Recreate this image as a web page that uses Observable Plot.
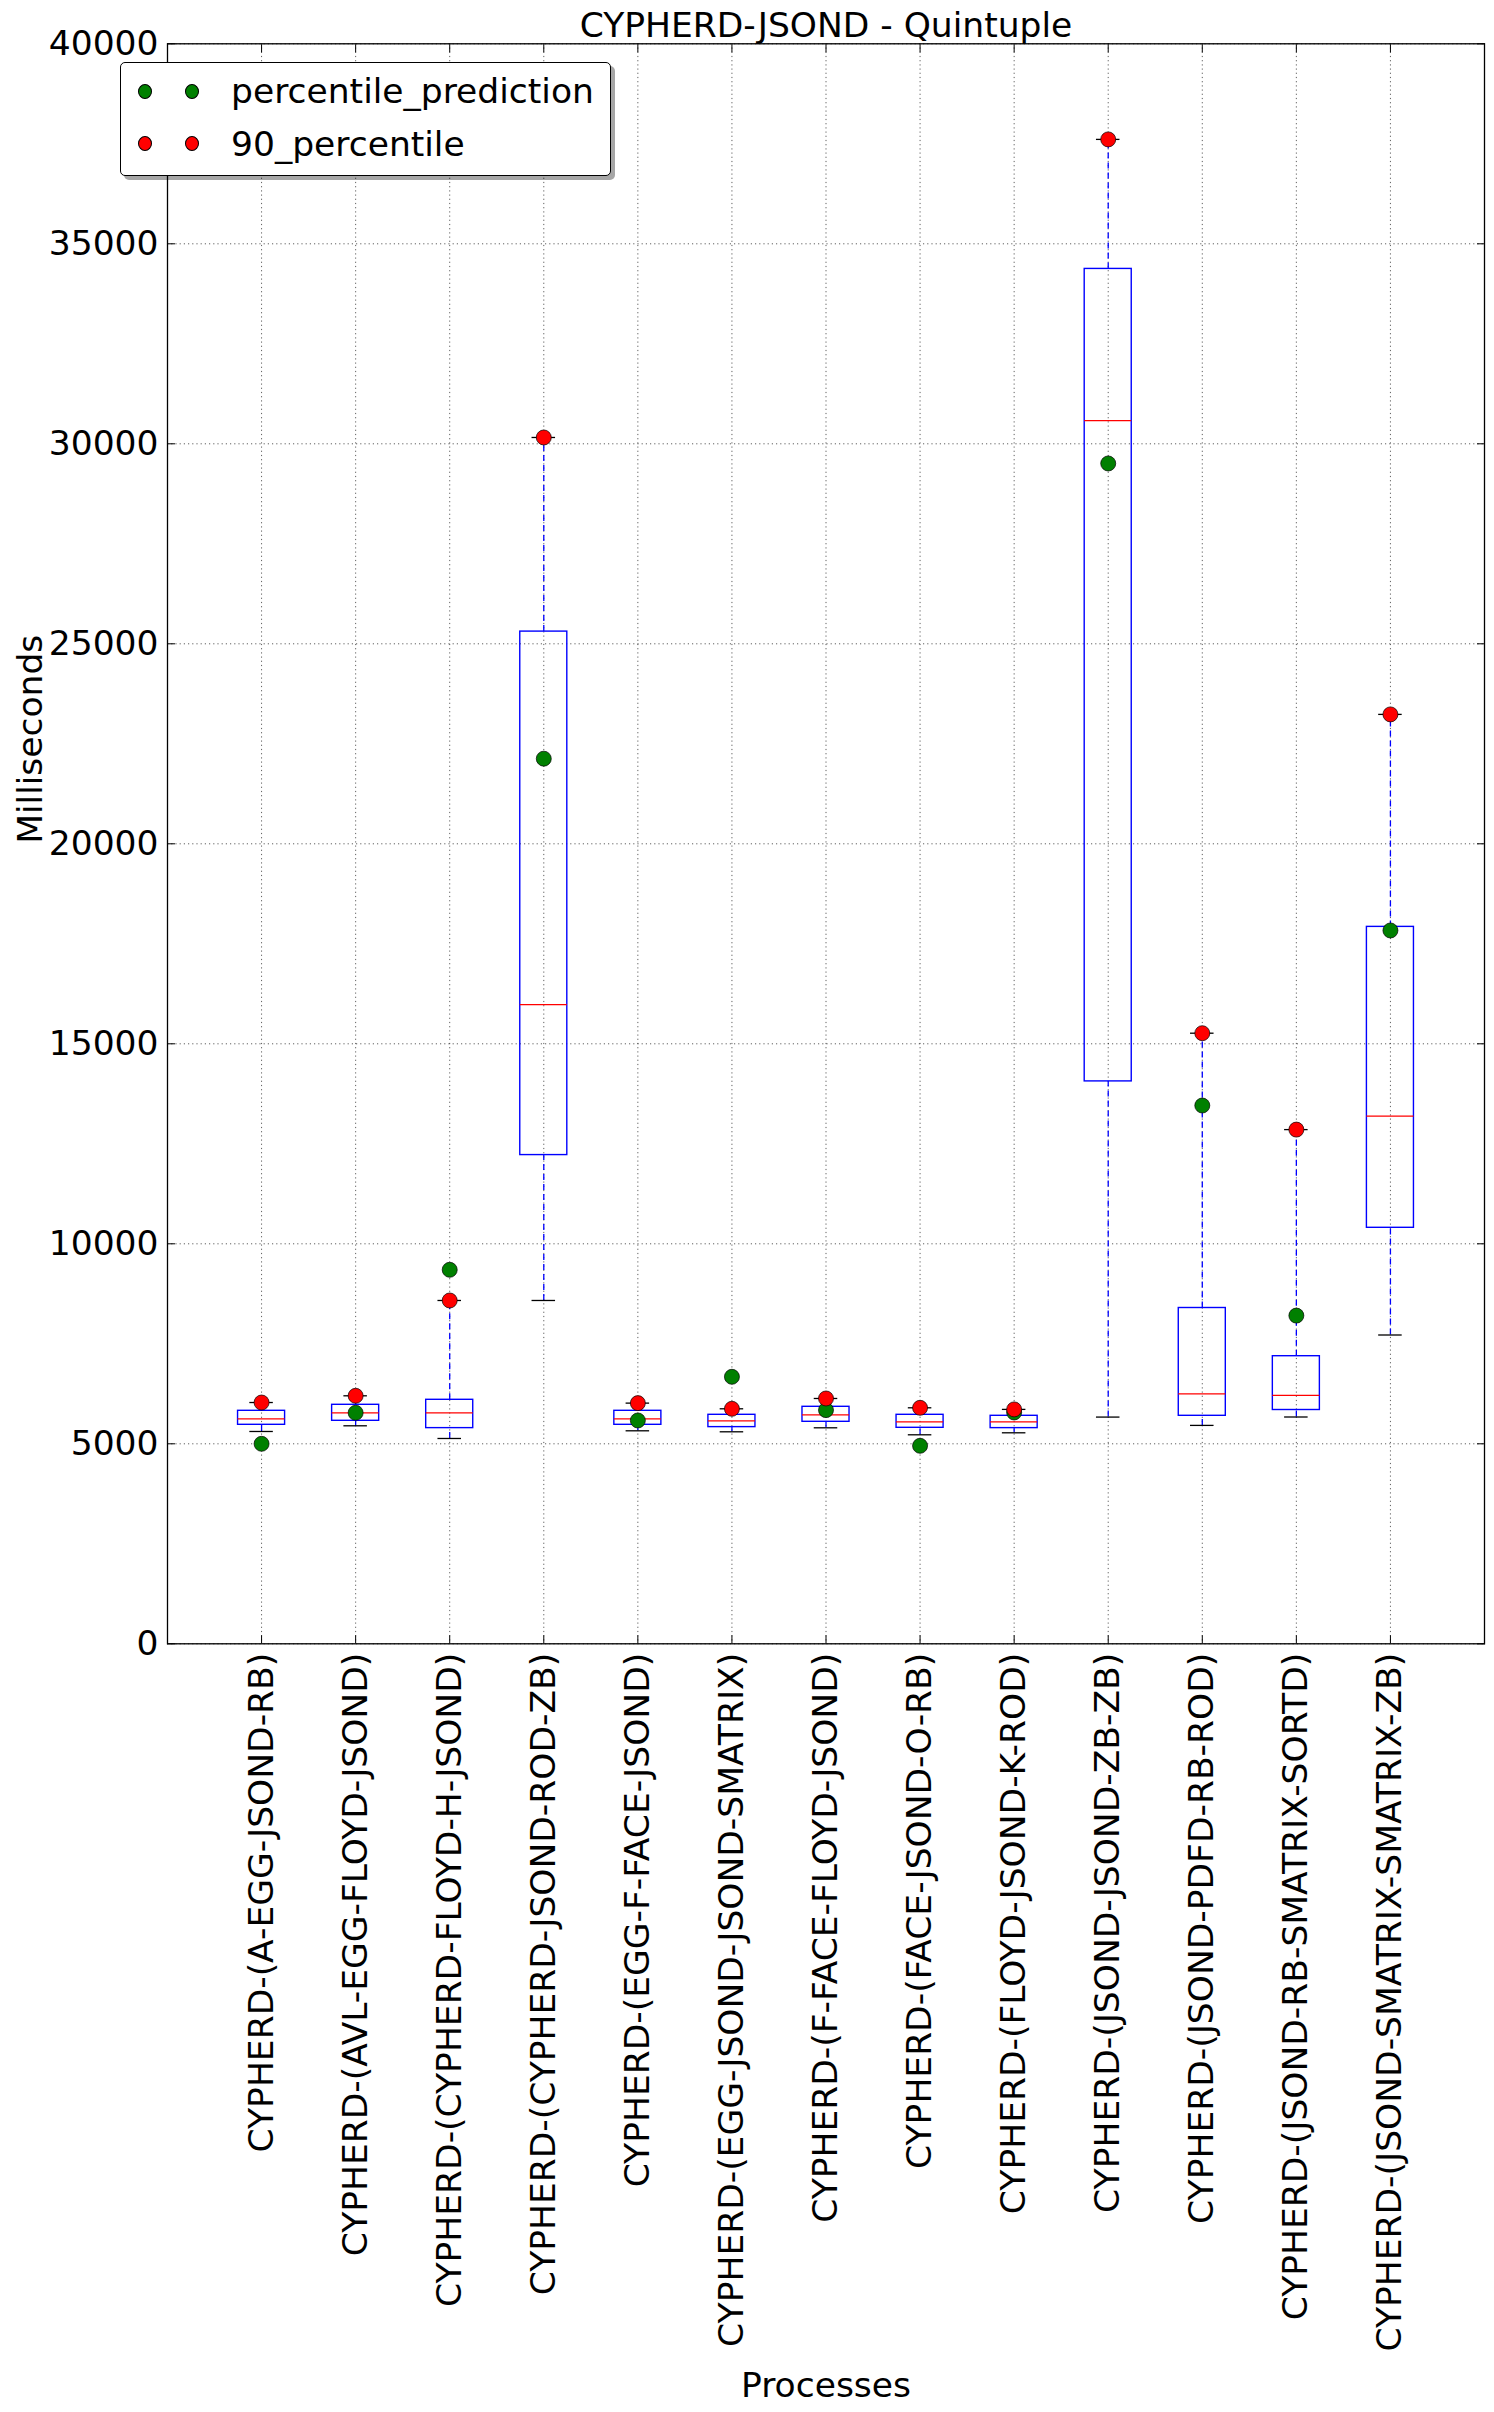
<!DOCTYPE html>
<html>
<head>
<meta charset="utf-8">
<script src="https://cdn.jsdelivr.net/npm/d3@7"></script>
<script src="https://cdn.jsdelivr.net/npm/@observablehq/plot@0.6"></script>
<style>
  html, body { margin: 0; padding: 0; background: white; }
  #wrap { position: relative; width: 1494px; height: 2412px; font-family: "DejaVu Sans", sans-serif; }
  #legend { position: absolute; left: 120px; top: 62px; width: 491px; height: 114px; box-sizing: border-box;
            border: 1.3px solid black; border-radius: 5px; background: white; box-shadow: 4px 4px 0 rgba(0,0,0,0.35); }
  #legend .dot { position: absolute; width: 14px; height: 15px; border-radius: 50%; border: 0.8px solid black; box-sizing: border-box; }
  #legend .lab { position: absolute; font-size: 34.5px; line-height: 1; white-space: nowrap; color: black; }
</style>
</head>
<body>
<div id="wrap"></div>
<script>
// ---- data ----
const title = "CYPHERD-JSOND - Quintuple";
const xLabel = "Processes";
const yLabel = "Milliseconds";
const categories = [
  "CYPHERD-(A-EGG-JSOND-RB)",
  "CYPHERD-(AVL-EGG-FLOYD-JSOND)",
  "CYPHERD-(CYPHERD-FLOYD-H-JSOND)",
  "CYPHERD-(CYPHERD-JSOND-ROD-ZB)",
  "CYPHERD-(EGG-F-FACE-JSOND)",
  "CYPHERD-(EGG-JSOND-JSOND-SMATRIX)",
  "CYPHERD-(F-FACE-FLOYD-JSOND)",
  "CYPHERD-(FACE-JSOND-O-RB)",
  "CYPHERD-(FLOYD-JSOND-K-ROD)",
  "CYPHERD-(JSOND-JSOND-ZB-ZB)",
  "CYPHERD-(JSOND-PDFD-RB-ROD)",
  "CYPHERD-(JSOND-RB-SMATRIX-SORTD)",
  "CYPHERD-(JSOND-SMATRIX-SMATRIX-ZB)"
];
const whiskerLow = [5308, 5450, 5133, 8583, 5325, 5300, 5400, 5225, 5275, 5668, 5460, 5670, 7720];
const q1         = [5475, 5575, 5392, 12218, 5475, 5417, 5550, 5400, 5392, 14060, 5700, 5845, 10400];
const median     = [5625, 5775, 5775, 15980, 5625, 5575, 5725, 5550, 5550, 30578, 6250, 6210, 13190];
const q3         = [5825, 5975, 6100, 25305, 5825, 5725, 5925, 5725, 5700, 34372, 8395, 7190, 17923];
const percentile90 = [6032, 6200, 8583, 30158, 6017, 5875, 6133, 5900, 5860, 37610, 15265, 12855, 23235];
const percentilePrediction = [5000, 5775, 9350, 22128, 5583, 6675, 5842, 4950, 5783, 29508, 13457, 8205, 17833];
const yTicks = [0, 5000, 10000, 15000, 20000, 25000, 30000, 35000, 40000];
const legendLabels = ["percentile_prediction", "90_percentile"];
const legendColors = ["green", "red"];

// ---- table built from arrays ----
const rows = categories.map((name, i) => ({
  name, pos: i + 1,
  low: whiskerLow[i], q1: q1[i], med: median[i], q3: q3[i],
  high: percentile90[i], p90: percentile90[i], pred: percentilePrediction[i]
}));
const positions = rows.map(d => d.pos);
const FS = 34.5;
const boxHalf = 0.25, capHalf = 0.125;

const chart = Plot.plot({
  width: 1494,
  height: 2412,
  marginTop: 43.3,
  marginRight: 10,
  marginBottom: 768.7,
  marginLeft: 167,
  style: { fontFamily: "DejaVu Sans", fontSize: FS + "px", background: "white", color: "black" },
  x: { type: "linear", domain: [0, categories.length + 1] },
  y: { type: "linear", domain: [0, 40000] },
  marks: [
    Plot.gridX(positions, { stroke: "black", strokeOpacity: 0.9, strokeWidth: 0.7, strokeDasharray: "1.2,3" }),
    Plot.gridY(yTicks, { stroke: "black", strokeOpacity: 0.9, strokeWidth: 0.7, strokeDasharray: "1.2,3" }),
    // whiskers
    Plot.ruleX(rows, { x: "pos", y1: "q3", y2: "high", stroke: "blue", strokeWidth: 1.3, strokeDasharray: "6,4" }),
    Plot.ruleX(rows, { x: "pos", y1: "low", y2: "q1", stroke: "blue", strokeWidth: 1.3, strokeDasharray: "6,4" }),
    // caps
    Plot.ruleY(rows, { y: "high", x1: d => d.pos - capHalf, x2: d => d.pos + capHalf, stroke: "black", strokeWidth: 1.3 }),
    Plot.ruleY(rows, { y: "low", x1: d => d.pos - capHalf, x2: d => d.pos + capHalf, stroke: "black", strokeWidth: 1.3 }),
    // boxes
    Plot.rect(rows, { x1: d => d.pos - boxHalf, x2: d => d.pos + boxHalf, y1: "q1", y2: "q3", fill: "none", stroke: "blue", strokeWidth: 1.4 }),
    // medians
    Plot.ruleY(rows, { y: "med", x1: d => d.pos - boxHalf, x2: d => d.pos + boxHalf, stroke: "red", strokeWidth: 1.3 }),
    // points
    Plot.dot(rows, { x: "pos", y: "pred", r: 7.5, fill: legendColors[0], stroke: "black", strokeWidth: 0.7 }),
    Plot.dot(rows, { x: "pos", y: "p90", r: 7.5, fill: legendColors[1], stroke: "black", strokeWidth: 0.7 }),
    Plot.frame({ stroke: "black", strokeWidth: 1.3 }),
    // axes
    Plot.axisY(yTicks, { anchor: "left", tickSize: -8, tickPadding: 17, fontSize: FS, label: null, tickFormat: d => String(d) }),
    Plot.axisY(yTicks, { anchor: "right", tickSize: -8, tickPadding: 0, label: null, tickFormat: () => "" }),
    Plot.axisX(positions, { anchor: "bottom", tickSize: -8, tickPadding: 17, tickRotate: -90, fontSize: FS, label: null,
                            tickFormat: p => categories[p - 1] }),
    Plot.axisX(positions, { anchor: "top", tickSize: -8, tickPadding: 0, label: null, tickFormat: () => "" }),
    // titles
    Plot.text([title], { text: d => d, frameAnchor: "top", lineAnchor: "middle", dy: -17.6, fontSize: FS, fill: "black" }),
    Plot.text([xLabel], { text: d => d, frameAnchor: "bottom", lineAnchor: "middle", dy: 741.7, fontSize: FS, fill: "black" }),
    Plot.text([yLabel], { text: d => d, frameAnchor: "left", lineAnchor: "middle", rotate: -90, dx: -136.3, fontSize: FS, fill: "black" })
  ]
});

const wrap = document.getElementById("wrap");
wrap.appendChild(chart);

// legend (overlapping the plot, as in the reference)
const legend = document.createElement("div");
legend.id = "legend";
const rowCenters = [28, 80.7];
const dotCenters = [23.5, 71.3];
const textTops = [11.1, 63.8];
legendLabels.forEach((lab, i) => {
  dotCenters.forEach(cx => {
    const dot = document.createElement("span");
    dot.className = "dot";
    dot.style.background = legendColors[i];
    dot.style.left = (cx - 7) + "px";
    dot.style.top = (rowCenters[i] - 7.5) + "px";
    legend.appendChild(dot);
  });
  const t = document.createElement("span");
  t.className = "lab";
  t.textContent = lab;
  t.style.left = "110px";
  t.style.top = textTops[i] + "px";
  legend.appendChild(t);
});
wrap.appendChild(legend);
</script>
</body>
</html>
